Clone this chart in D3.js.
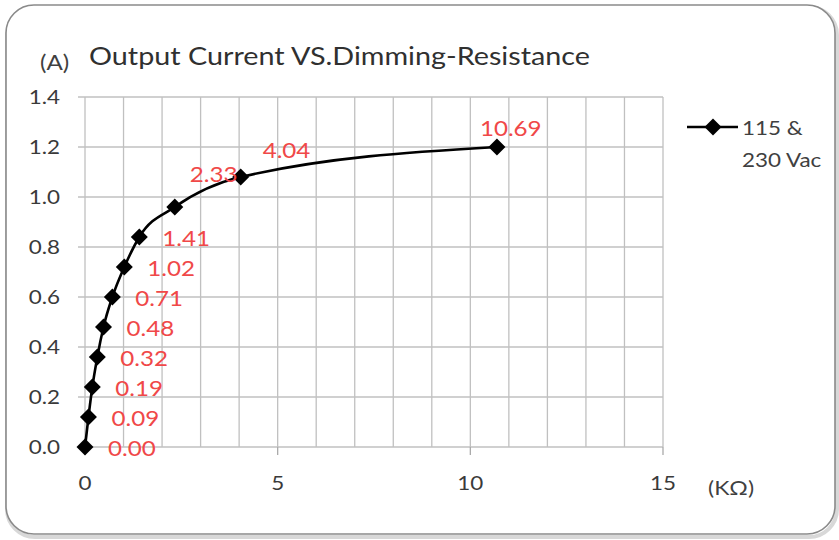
<!DOCTYPE html>
<html><head><meta charset="utf-8">
<script src="https://cdn.jsdelivr.net/npm/d3@7/dist/d3.min.js"></script>
<style>body{margin:0;background:#fff;}svg{display:block;font-family:Lato,"Open Sans",sans-serif;}</style>
</head><body>
<svg id="c" width="839" height="540"></svg>
<script>
const resistance = [0, 0.09, 0.19, 0.32, 0.48, 0.71, 1.02, 1.41, 2.33, 4.04, 10.69];
const current = [0, 0.12, 0.24, 0.36, 0.48, 0.60, 0.72, 0.84, 0.96, 1.08, 1.20];
const labels = ["0.00","0.09","0.19","0.32","0.48","0.71","1.02","1.41","2.33","4.04","10.69"];
const xTicks = [0, 5, 10, 15];
const yTicks = [0, 0.2, 0.4, 0.6, 0.8, 1.0, 1.2, 1.4];
const seriesName = ["115 &", "230 Vac"];
const title = "Output Current VS.Dimming-Resistance";

const SX = 1.15;
const svg = d3.select("#c");
function place(sel, fx, fy) {
  return sel.attr("transform", (d,i)=>`translate(${typeof fx==="function"?fx(d,i):fx},${typeof fy==="function"?fy(d,i):fy}) scale(${SX},1)`);
}
// frame
svg.append("rect").attr("x",7).attr("y",7).attr("width",830).attr("height",530)
  .attr("rx",28).attr("fill","none").attr("stroke","#d8d8d8").attr("stroke-width",4);
svg.append("rect").attr("x",6).attr("y",5).attr("width",829).attr("height",529)
  .attr("rx",28).attr("fill","#fff").attr("stroke","#8a8a8a").attr("stroke-width",1.6);

const x = d3.scaleLinear().domain([0,15]).range([85,663]);
const y = d3.scaleLinear().domain([0,1.4]).range([447,97]);

// grid
const g = svg.append("g");
g.selectAll(".vg").data(d3.range(0,16)).enter().append("line")
  .attr("x1",d=>x(d)).attr("x2",d=>x(d)).attr("y1",y(1.4)).attr("y2",y(0))
  .attr("stroke","#c0c0c0").attr("stroke-width",1.3);
g.selectAll(".hg").data(yTicks).enter().append("line")
  .attr("x1",x(0)-7).attr("x2",x(15)).attr("y1",d=>y(d)).attr("y2",d=>y(d))
  .attr("stroke","#c0c0c0").attr("stroke-width",1.3);
g.selectAll(".xt").data(xTicks).enter().append("line")
  .attr("x1",d=>x(d)).attr("x2",d=>x(d)).attr("y1",y(0)).attr("y2",y(0)+8)
  .attr("stroke","#aaa").attr("stroke-width",1.3);

// axis labels
place(svg.selectAll(".yl").data(yTicks).enter().append("text"), 60, d=>y(d)+7)
  .attr("text-anchor","end").attr("font-size",19.5).attr("fill","#3a3a3a").text(d=>d.toFixed(1));
place(svg.selectAll(".xl").data(xTicks).enter().append("text"), d=>x(d), 490)
  .attr("text-anchor","middle").attr("font-size",19.5).attr("fill","#3a3a3a").text(d=>d);
place(svg.append("text"), 708, 495).attr("font-size",20).attr("fill","#404040").text("(KΩ)");
place(svg.append("text"), 40, 70).attr("font-size",21).attr("fill","#404040").text("(A)");
place(svg.append("text"), 89, 65).attr("font-size",25).attr("fill","#303030").text(title);

// line
const pts = resistance.map((r,i)=>[r,current[i]]);
const line = d3.line().x(d=>x(d[0])).y(d=>y(d[1])).curve(d3.curveMonotoneX);
svg.append("path").attr("d",line(pts)).attr("fill","none").attr("stroke","#000").attr("stroke-width",2.6);
const diamond = "M0,-8.5L8.5,0L0,8.5L-8.5,0Z";
svg.selectAll(".mk").data(pts).enter().append("path")
  .attr("transform",d=>`translate(${x(d[0])},${y(d[1])})`).attr("d",diamond).attr("fill","#000");

// data labels
place(svg.selectAll(".dl").data(pts).enter().append("text"),
  (d,i)=> i<8 ? x(d[0])+23 : (i===8 ? x(d[0])+15 : (i===9 ? x(d[0])+22 : x(d[0])-17)),
  (d,i)=> i<8 ? y(d[1])+9 : (i===8 ? y(d[1])-25 : (i===9 ? y(d[1])-19 : y(d[1])-11)))
  .attr("font-size",21).attr("fill","#f04848").text((d,i)=>labels[i]);

// legend
svg.append("line").attr("x1",687).attr("x2",738).attr("y1",127).attr("y2",127).attr("stroke","#000").attr("stroke-width",2.6);
svg.append("path").attr("transform","translate(713,127)").attr("d",diamond).attr("fill","#000");
place(svg.append("text"), 742, 135).attr("font-size",19.5).attr("fill","#404040").text(seriesName[0]);
place(svg.append("text"), 742, 167).attr("font-size",19.5).attr("fill","#404040").text(seriesName[1]);
</script>
</body></html>
